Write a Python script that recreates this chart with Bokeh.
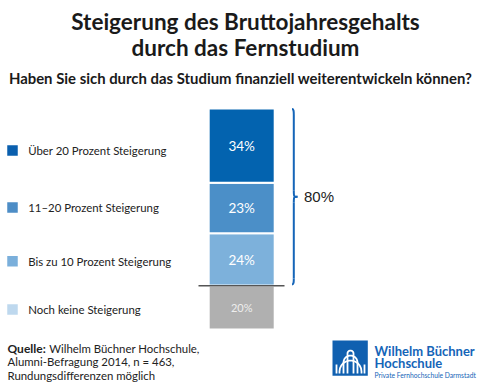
import numpy as np
from bokeh.plotting import figure
from bokeh.models import Range1d, Label, ColumnDataSource
from bokeh.embed import file_html
from bokeh.resources import INLINE

# ---------------- data ----------------
title_lines = ["Steigerung des Bruttojahresgehalts", "durch das Fernstudium"]
subtitle = "Haben Sie sich durch das Studium finanziell weiterentwickeln können?"
categories = ["Über 20 Prozent Steigerung", "11–20 Prozent Steigerung",
              "Bis zu 10 Prozent Steigerung", "Noch keine Steigerung"]
values = [34, 23, 24, 20]
bar_colors = ["#0363AF", "#4B8FC8", "#7DB1DB", "#B0B0B0"]
legend_colors = ["#0A5FAE", "#4D8DC6", "#7AAFDB", "#BED8EE"]
total_label = "80%"
source_lines = ["Wilhelm Büchner Hochschule,", "Alumni-Befragung 2014, n = 463,",
                "Rundungsdifferenzen möglich"]
logo_lines = ["Wilhelm Büchner", "Hochschule", "Private Fernhochschule Darmstadt"]

# ---------------- geometry helpers ----------------
W, H = 480, 382
SCALE = 2.19          # px per percent
BASE_C = 285.3        # canvas y (from top) of the 0 % line
OFF = 0

def X(ref):
    return ref - OFF

def Y(ref):
    return (BASE_C - (ref - OFF)) / SCALE

FONT = "Lato"

p = figure(width=W, height=H, output_backend="svg", toolbar_location=None,
           x_range=Range1d(0, W), y_range=Range1d(-(H - BASE_C) / SCALE, BASE_C / SCALE),
           min_border=0)
p.axis.visible = False
p.grid.visible = False
p.outline_line_color = None
p.background_fill_color = "white"

# ---------------- stacked bar ----------------
pos_order = [2, 1, 0]
bottoms, tops, cols, labs, mids = [], [], [], [], []
acc = 0
for i in pos_order:
    bottoms.append(acc)
    tops.append(acc + values[i])
    mids.append(acc + values[i] / 2)
    acc += values[i]
    cols.append(bar_colors[i])
    labs.append(f"{values[i]}%")
pos_top = acc

bar_x = X(241.2)
src = ColumnDataSource(dict(x=[bar_x] * 3, bottom=bottoms, top=tops, color=cols,
                            mid=mids, lab=labs))
p.vbar(x="x", bottom="bottom", top="top", width=66, fill_color="color",
       line_color="white", line_width=2, source=src)
p.text(x="x", y="mid", text="lab", source=src, text_color="white",
       text_font={"value": FONT}, text_font_size={"value": "13.5px"},
       text_align="center", text_baseline="middle")

neg = values[3]
p.vbar(x=[bar_x], bottom=[-neg], top=[0], width=66, fill_color=bar_colors[3],
       line_color="white", line_width=2)
p.text(x=[bar_x], y=[-neg / 2], text=[f"{neg}%"], text_color="#EEEEEE",
       text_font={"value": FONT}, text_font_size={"value": "11px"},
       text_align="center", text_baseline="middle")

# zero line
p.line(x=[X(198), X(284)], y=[0, 0], line_color="#555555", line_width=1.5)

# ---------------- brace ----------------
xe, xv, xt = X(291.5), X(293.3), X(297.0)
top_y, bot_y = pos_top - 0.3, 0.6
mid_y = (top_y + bot_y) / 2
h = 6 / SCALE
brace_col = "#1565B8"
p.bezier(x0=[xe, xv, xe, xv], y0=[top_y, mid_y + h, bot_y, mid_y - h],
         x1=[xv, xt, xv, xt], y1=[top_y - h, mid_y, bot_y + h, mid_y],
         cx0=[xv, xv, xv, xv], cy0=[top_y, mid_y, bot_y, mid_y],
         cx1=[xv, xv, xv, xv], cy1=[top_y - h * 0.4, mid_y, bot_y + h * 0.4, mid_y],
         line_color=brace_col, line_width=2)
p.line(x=[xv, xv], y=[top_y - h, mid_y + h], line_color=brace_col, line_width=2)
p.line(x=[xv, xv], y=[bot_y + h, mid_y - h], line_color=brace_col, line_width=2)
p.add_layout(Label(x=X(303.5), y=mid_y, text=total_label, text_font="Liberation Sans",
                   text_font_size="15px", text_color="#222222", text_baseline="middle"))

# ---------------- legend ----------------
leg_y = [150, 207, 260.7, 309]
p.rect(x=[X(12)] * 4, y=[Y(v) for v in leg_y], width=10.5, height=10.5 / SCALE,
       fill_color=legend_colors, line_color=None)
for cat, yy in zip(categories, leg_y):
    p.add_layout(Label(x=X(27.7), y=Y(yy), text=cat, text_font=FONT,
                       text_font_size="11.4px", text_color="#222222", text_baseline="middle"))

# ---------------- titles ----------------
for t, yb in zip(title_lines, [20.5, 47]):
    p.add_layout(Label(x=X(245), y=Y(yb), text=t, text_font=FONT, text_font_style="bold",
                       text_font_size="22.5px", text_color="#1A1A1A", text_align="center",
                       text_baseline="alphabetic"))
p.add_layout(Label(x=X(240), y=Y(77.3), text=subtitle, text_font=FONT, text_font_style="bold",
                   text_font_size="14.9px", text_color="#1A1A1A", text_align="center",
                   text_baseline="alphabetic"))

# ---------------- source ----------------
src_base = [347.5, 361, 374.5]
p.add_layout(Label(x=X(7), y=Y(src_base[0]), text="Quelle:", text_font=FONT,
                   text_font_style="bold", text_font_size="12px", text_color="#222222",
                   text_baseline="alphabetic"))
p.add_layout(Label(x=X(48.7), y=Y(src_base[0]), text=source_lines[0], text_font=FONT,
                   text_font_size="11.4px", text_color="#222222", text_baseline="alphabetic"))
for t, yb in zip(source_lines[1:], src_base[1:]):
    p.add_layout(Label(x=X(7), y=Y(yb), text=t, text_font=FONT, text_font_size="11.4px",
                       text_color="#222222", text_baseline="alphabetic"))

# ---------------- logo ----------------
logo_blue = "#1060B0"
p.quad(left=[X(332)], right=[X(367.3)], top=[Y(340)], bottom=[Y(375.3)],
       fill_color=logo_blue, line_color=None)
arches = [(347, 353, 350), (343, 357, 355), (339, 361, 360)]
xs_l, ys_l = [], []
for (l, r, t) in arches:
    rad = (r - l) / 2
    cx = (l + r) / 2
    ang = np.linspace(np.pi, 0, 12)
    ax = list(cx + rad * np.cos(ang))
    ay = list(t + rad - rad * np.sin(ang))
    xs_l.append([X(v) for v in [l] + ax + [r]])
    ys_l.append([Y(v) for v in [373] + ay + [373]])
xs_l.append([X(336), X(336)]); ys_l.append([Y(364), Y(373)])
xs_l.append([X(364), X(364)]); ys_l.append([Y(364), Y(373)])
p.multi_line(xs=xs_l, ys=ys_l, line_color="white", line_width=1.8)

for t, yb, fs, st in zip(logo_lines, [350, 362.5, 374], ["13px", "13px", "6.7px"],
                         ["bold", "bold", "normal"]):
    p.add_layout(Label(x=X(374), y=Y(yb), text=t, text_font=FONT, text_font_style=st,
                       text_font_size=fs, text_color="#1565B8", text_baseline="alphabetic"))

open("out.html", "w").write(file_html(p, INLINE))
